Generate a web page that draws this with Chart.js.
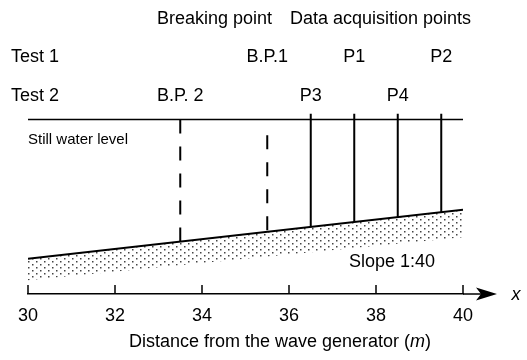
<!DOCTYPE html>
<html>
<head>
<meta charset="utf-8">
<script src="https://cdn.jsdelivr.net/npm/chart.js@4"></script>
<style>
  body { margin: 0; background: #fff; }
  canvas { display: block; }
</style>
</head>
<body>
<canvas id="chart" width="527" height="360"></canvas>
<script>
// datos del perfil del canal (x en m, z en m)
const xTicks = [30, 32, 34, 36, 38, 40];
const bedX = [30, 40];
const bedZ = [0, 0.25];            // pendiente 1:40
const bedBottomZ = [-0.11, 0.11];  // borde inferior del punteado
const waterZ = 0.71;               // nivel de agua en reposo

const breakLabels = ['B.P. 2', 'B.P.1'];
const breakX = [33.5, 35.5];
const breakTopZ = [0.71, 0.63];

const gaugeLabels = ['P3', 'P1', 'P4', 'P2'];
const gaugeX = [36.5, 37.5, 38.5, 39.5];
const gaugeTopZ = 0.74;

const test1Labels = ['B.P.1', 'P1', 'P2'];
const test1X = [35.5, 37.5, 39.5];
const test2Labels = ['B.P. 2', 'P3', 'P4'];
const test2X = [33.5, 36.5, 38.5];

const FONT = '"Liberation Sans", Arial, sans-serif';
Chart.defaults.font.family = FONT;
Chart.defaults.color = '#000';

// cota del fondo en una x dada
function bedAt(x) {
    return bedZ[0] + (x - bedX[0]) * (bedZ[1] - bedZ[0]) / (bedX[1] - bedX[0]);
}

// patrón de puntos para la arena
function makeDots() {
    const c = document.createElement('canvas');
    c.width = 8; c.height = 6;
    const g = c.getContext('2d');
    g.fillStyle = '#444';
    g.fillRect(0, 0, 1.5, 1.5);
    g.fillRect(4, 3, 1.5, 1.5);
    return g.createPattern(c, 'repeat');
}

const datasets = [
    {
        data: bedX.map((x, i) => ({ x: x, y: bedZ[i] })),
        borderColor: '#000', borderWidth: 2,
        backgroundColor: makeDots(), fill: '+1'
    },
    {
        data: bedX.map((x, i) => ({ x: x, y: bedBottomZ[i] })),
        borderWidth: 0, borderColor: 'rgba(0,0,0,0)', fill: false
    },
    {
        data: bedX.map(x => ({ x: x, y: waterZ })),
        borderColor: '#000', borderWidth: 1.5, fill: false
    }
];

breakX.forEach((x, i) => {
    datasets.push({
        data: [{ x: x, y: breakTopZ[i] }, { x: x, y: bedAt(x) }],
        borderColor: '#000', borderWidth: 2, borderDash: [14, 13], fill: false
    });
});

gaugeX.forEach(x => {
    datasets.push({
        data: [{ x: x, y: gaugeTopZ }, { x: x, y: bedAt(x) }],
        borderColor: '#000', borderWidth: 2, fill: false
    });
});

// textos, marcas hacia arriba y flecha del eje
const extras = {
    id: 'extras',
    afterDraw(chart) {
        const ctx = chart.ctx;
        const xs = chart.scales.x;
        const y0 = chart.chartArea.bottom;
        ctx.save();
        ctx.strokeStyle = '#000';
        ctx.fillStyle = '#000';
        ctx.lineWidth = 1.5;

        // marcas del eje
        xTicks.forEach(v => {
            const px = xs.getPixelForValue(v);
            ctx.beginPath();
            ctx.moveTo(px, y0);
            ctx.lineTo(px, y0 - 9);
            ctx.stroke();
        });

        // flecha
        const xr = chart.chartArea.right;
        ctx.beginPath();
        ctx.moveTo(xr, y0);
        ctx.lineTo(xr + 20, y0);
        ctx.stroke();
        ctx.beginPath();
        ctx.moveTo(xr + 34, y0);
        ctx.lineTo(xr + 13, y0 - 6.5);
        ctx.lineTo(xr + 18, y0);
        ctx.lineTo(xr + 13, y0 + 6.5);
        ctx.closePath();
        ctx.fill();

        ctx.font = 'italic 18px ' + FONT;
        ctx.textAlign = 'center';
        ctx.textBaseline = 'middle';
        ctx.fillText('x', 516, y0 + 1);

        // cabeceras
        ctx.font = '18px ' + FONT;
        ctx.textAlign = 'left';
        ctx.fillText('Breaking point', 157, 19);
        ctx.fillText('Data acquisition points', 290, 19);
        ctx.fillText('Test 1', 11, 57);
        ctx.fillText('Test 2', 11, 96);

        ctx.textAlign = 'center';
        test1Labels.forEach((t, i) => ctx.fillText(t, xs.getPixelForValue(test1X[i]), 57));
        test2Labels.forEach((t, i) => ctx.fillText(t, xs.getPixelForValue(test2X[i]), 96));

        ctx.textAlign = 'left';
        ctx.font = '15px ' + FONT;
        ctx.fillText('Still water level', 28, 140);
        ctx.font = '18px ' + FONT;
        ctx.fillText('Slope 1:40', 349, 262);

        // título del eje con la m en cursiva
        const a = 'Distance from the wave generator (';
        const b = 'm';
        const c = ')';
        ctx.font = '18px ' + FONT;
        const wa = ctx.measureText(a).width;
        const wc = ctx.measureText(c).width;
        ctx.font = 'italic 18px ' + FONT;
        const wb = ctx.measureText(b).width;
        const sx = 280 - (wa + wb + wc) / 2;
        const ty = 342;
        ctx.font = '18px ' + FONT;
        ctx.fillText(a, sx, ty);
        ctx.font = 'italic 18px ' + FONT;
        ctx.fillText(b, sx + wa, ty);
        ctx.font = '18px ' + FONT;
        ctx.fillText(c, sx + wa + wb, ty);
        ctx.restore();
    }
};

new Chart(document.getElementById('chart'), {
    type: 'line',
    data: { datasets: datasets },
    options: {
        responsive: false,
        animation: false,
        devicePixelRatio: 1,
        layout: { padding: { left: 28, right: 64, top: 0, bottom: 0 } },
        elements: { point: { radius: 0 }, line: { tension: 0 } },
        plugins: { legend: { display: false }, tooltip: { enabled: false } },
        scales: {
            x: {
                type: 'linear', min: 30, max: 40,
                afterBuildTicks: s => { s.ticks = xTicks.map(v => ({ value: v })); },
                afterFit: s => { s.height = 66; },
                grid: { display: false },
                border: { display: true, color: '#000', width: 1.5 },
                ticks: { padding: 3, font: { size: 18 }, color: '#000' }
            },
            y: {
                type: 'linear', min: -0.18, max: 1.32, display: false
            }
        }
    },
    plugins: [extras]
});
</script>
</body>
</html>
